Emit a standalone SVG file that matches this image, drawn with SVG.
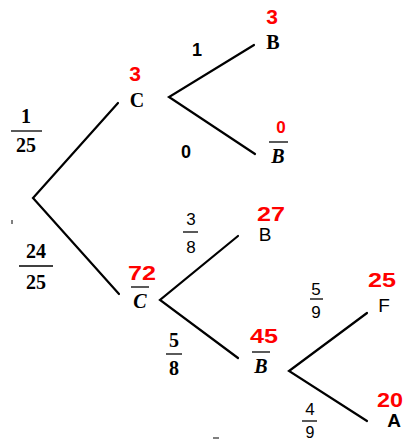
<svg xmlns="http://www.w3.org/2000/svg" width="405" height="441" viewBox="0 0 405 441">
<style>
.e{stroke:#000;stroke-width:2.2;fill:none;stroke-linecap:round}
.bar{stroke:#000;stroke-width:1.3}
.red{fill:#ff0000;font-family:"Liberation Sans",Arial,sans-serif;font-weight:bold;font-size:21px;text-anchor:middle}
.ser{fill:#000;font-family:"Liberation Serif","Times New Roman",serif;font-weight:bold;font-size:20px;text-anchor:middle}
.seri{fill:#000;font-family:"Liberation Serif","Times New Roman",serif;font-weight:bold;font-style:italic;font-size:20px;text-anchor:middle}
.san{fill:#000;font-family:"Liberation Sans",Arial,sans-serif;font-size:19px;text-anchor:middle}
.sanb{fill:#000;font-family:"Liberation Sans",Arial,sans-serif;font-weight:bold;font-size:18px;text-anchor:middle}
.fr{fill:#000;font-family:"Liberation Sans",Arial,sans-serif;font-size:17px;text-anchor:middle}
</style>
<rect width="405" height="441" fill="#fff"/>
<g id="connectors">
<polyline class="e" points="118,103 33,198 119,294"/>
<polyline class="e" points="254,45 169,97 255,154"/>
<polyline class="e" points="238,236 160,300 238,358"/>
<polyline class="e" points="367,313 289,371 367,421"/>
<line x1="12" y1="220" x2="12" y2="224" stroke="#000" stroke-width="1"/>
<line x1="213" y1="438" x2="219" y2="438" stroke="#000" stroke-width="1"/>
</g>
<g id="label-1-25">
<text class="ser" x="26" y="123">1</text>
<line class="bar" x1="11" y1="131" x2="42" y2="131"/>
<text class="ser" x="26" y="152">25</text>
</g>
<g id="label-24-25">
<text class="ser" x="36" y="258">24</text>
<line class="bar" x1="19" y1="266" x2="53" y2="266"/>
<text class="ser" x="36" y="289">25</text>
</g>
<g id="node-C">
<text class="red" x="135" y="81">3</text>
<text class="ser" x="137" y="107">C</text>
</g>
<g id="label-1"><text class="sanb" x="197" y="56">1</text></g>
<g id="label-0"><text class="sanb" x="186" y="158">0</text></g>
<g id="node-B1">
<text class="red" x="272" y="24">3</text>
<text class="ser" x="273" y="49">B</text>
</g>
<g id="node-Bbar1">
<text class="red" x="281" y="133" style="font-size:17px">0</text>
<line class="bar" x1="269" y1="142" x2="288" y2="142"/>
<text class="seri" x="278" y="163">B</text>
</g>
<g id="node-Cbar">
<text class="red" x="142" y="280" textLength="28" lengthAdjust="spacingAndGlyphs">72</text>
<line class="bar" x1="131" y1="287" x2="149" y2="287"/>
<text class="seri" x="140" y="308">C</text>
</g>
<g id="label-3-8">
<text class="fr" x="191" y="225">3</text>
<line class="bar" x1="183" y1="232" x2="198" y2="232"/>
<text class="fr" x="191" y="253">8</text>
</g>
<g id="label-5-8">
<text class="ser" x="174" y="347">5</text>
<line class="bar" x1="166" y1="354" x2="182" y2="354"/>
<text class="ser" x="174" y="375">8</text>
</g>
<g id="node-B2">
<text class="red" x="271" y="221" textLength="28" lengthAdjust="spacingAndGlyphs">27</text>
<text class="san" x="265" y="241">B</text>
</g>
<g id="node-Bbar2">
<text class="red" x="264" y="343" textLength="28" lengthAdjust="spacingAndGlyphs">45</text>
<line class="bar" x1="252" y1="352" x2="270" y2="352"/>
<text class="seri" x="261" y="373">B</text>
</g>
<g id="label-5-9">
<text class="fr" x="316" y="295">5</text>
<line class="bar" x1="310" y1="299" x2="323" y2="299"/>
<text class="fr" x="316" y="318">9</text>
</g>
<g id="label-4-9">
<text class="fr" x="310" y="415">4</text>
<line class="bar" x1="302" y1="421" x2="317" y2="421"/>
<text class="fr" x="310" y="438" style="font-size:16px">9</text>
</g>
<g id="node-F">
<text class="red" x="382" y="287" textLength="28" lengthAdjust="spacingAndGlyphs">25</text>
<text class="san" x="384" y="312">F</text>
</g>
<g id="node-A">
<text class="red" x="390" y="407" textLength="26" lengthAdjust="spacingAndGlyphs">20</text>
<text class="sanb" x="394" y="427" style="font-size:19px">A</text>
</g>
</svg>
